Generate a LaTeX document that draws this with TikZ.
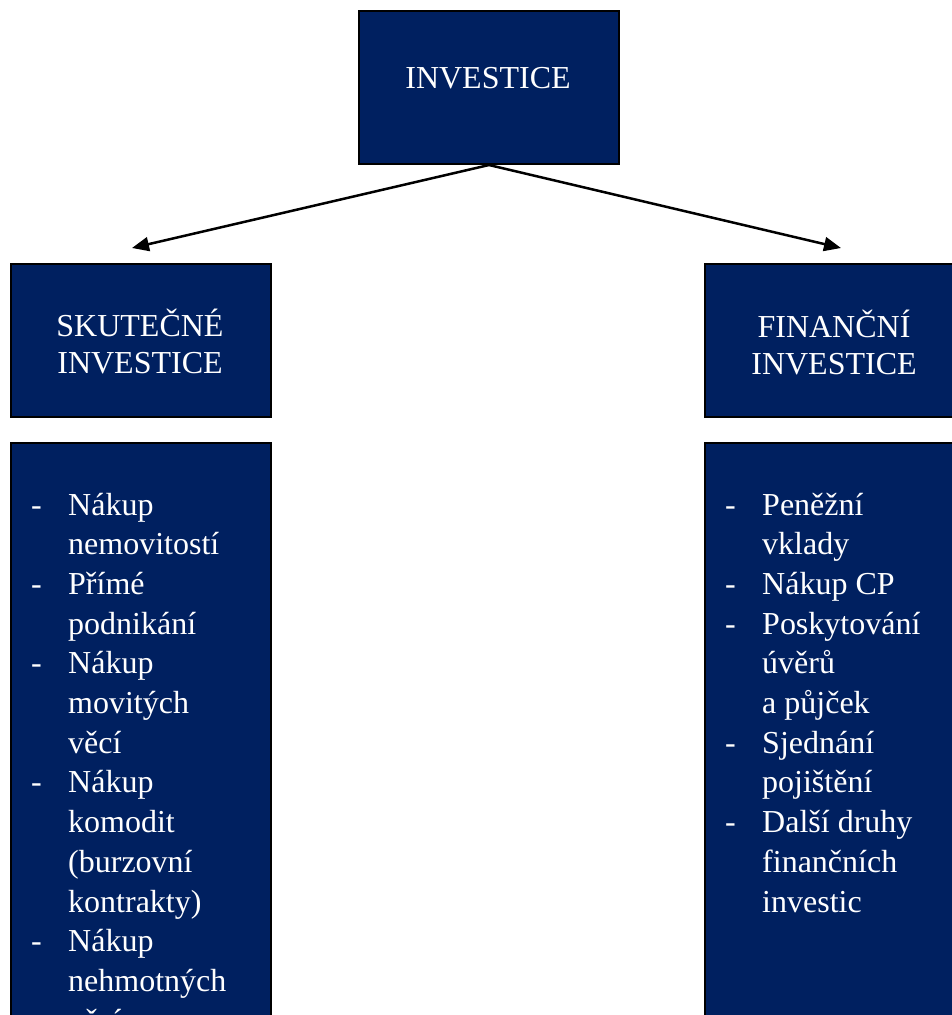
\documentclass[tikz,border=0pt]{standalone}
\usepackage{fontspec}
\setmainfont{Liberation Serif}
\usetikzlibrary{arrows.meta}
\definecolor{navy}{RGB}{0,32,96}
\begin{document}
\begin{tikzpicture}[x=1pt,y=-1pt,
  box/.style={draw=black, line width=2pt, fill=navy, rectangle, inner sep=0pt, anchor=north west, minimum width=260pt},
  txt/.style={text=white, font=\fontsize{32}{40}\selectfont, inner sep=0pt},
  arr/.style={line width=2.5pt, -{Triangle[length=17pt,width=14pt]}}]
\useasboundingbox (0,0) rectangle (951,1015);
% boxes
\node[box, minimum height=153pt] (top) at (358,10) {};
\node[box, minimum height=153pt] (left) at (10,263) {};
\node[box, minimum height=153pt, minimum width=320pt] (right) at (704,263) {};
\node[box, minimum height=700pt] (leftlist) at (10,442) {};
\node[box, minimum height=700pt, minimum width=320pt] (rightlist) at (704,442) {};
% headings
\node[txt, anchor=base] (ttop) at (488,88) {INVESTICE};
\node[txt, anchor=base] (tl1) at (140,336) {SKUTEČNÉ};
\node[txt, anchor=base] (tl2) at (140,373) {INVESTICE};
\node[txt, anchor=base] (tr1) at (834,337) {FINANČNÍ};
\node[txt, anchor=base] (tr2) at (834,374) {INVESTICE};
% arrows
\coordinate (lend) at (132,248);
\coordinate (rend) at (841,248);
\draw[arr] (top.south) -- (lend);
\draw[arr] (top.south) -- (rend);
% left list
\foreach \t [count=\i from 0] in {Nákup,nemovitostí,Přímé,podnikání,Nákup,movitých,věcí,Nákup,komodit,{(burzovní},{kontrakty)},Nákup,nehmotných,věcí}
  \node[txt, anchor=base west] (ll\i) at (68,515+\i*39.7) {\t};
\foreach \i in {0,2,4,7,11}
  \node[txt, anchor=base west] (ld\i) at (31,515+\i*39.7) {-};
% right list
\foreach \t [count=\i from 0] in {Peněžní,vklady,Nákup CP,Poskytování,úvěrů,a půjček,Sjednání,pojištění,Další druhy,finančních,investic}
  \node[txt, anchor=base west] (rl\i) at (762,515+\i*39.7) {\t};
\foreach \i in {0,2,3,6,8}
  \node[txt, anchor=base west] (rd\i) at (725,515+\i*39.7) {-};
\end{tikzpicture}
\end{document}
